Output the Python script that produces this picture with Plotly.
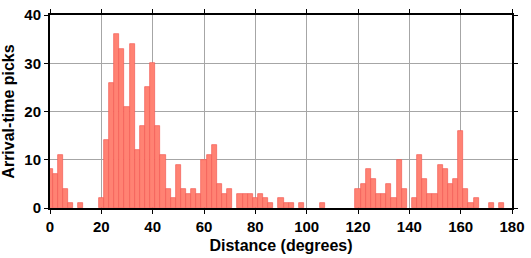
import plotly.graph_objects as go

# Histogram bins (centres, degrees) and counts
bin_centers = list(range(0, 182, 2))
counts = [8, 7, 11, 4, 1, 0, 1, 0, 0, 0,
          2, 14, 26, 36, 33, 21, 34, 12, 17, 25,
          30, 17, 11, 4, 2, 9, 4, 3, 4, 3,
          10, 11, 13, 5, 3, 4, 0, 3, 3, 3,
          2, 3, 2, 1, 0, 2, 1, 1, 0, 1,
          0, 0, 0, 1, 0, 0, 0, 0, 0, 0,
          4, 5, 8, 6, 3, 3, 5, 2, 10, 4,
          0, 2, 11, 6, 3, 3, 9, 8, 5, 6,
          16, 4, 1, 2, 0, 0, 1, 0, 1, 0,
          0]
bin_width = 2
x_ticks = list(range(0, 181, 20))
y_ticks = list(range(0, 41, 10))

xs = [x for x, c in zip(bin_centers, counts) if c > 0]
ys = [c for c in counts if c > 0]

fig = go.Figure()
fig.add_trace(go.Bar(
    x=xs, y=ys, width=bin_width,
    marker=dict(color="#FF8273", line=dict(color="#F25A55", width=0.7)),
    showlegend=False,
))

font_family = "Liberation Sans, Arial, sans-serif"
tickfont = dict(family=font_family, size=15, color="black", weight="bold")
titlefont = dict(family=font_family, size=16, color="black", weight="bold")

axis_common = dict(
    showline=True, linecolor="black", linewidth=2, mirror="ticks",
    ticks="outside", ticklen=4, tickwidth=1.3, tickcolor="black",
    showgrid=True, gridcolor="#a6a6a6", gridwidth=1,
    zeroline=False, tickfont=tickfont, ticklabeloverflow="allow",
)

fig.update_layout(
    width=531, height=258,
    margin=dict(l=50, r=12, t=6, b=50),
    paper_bgcolor="white", plot_bgcolor="white",
    bargap=0,
    xaxis=dict(range=[0, 180], tickvals=x_ticks,
               title=dict(text="Distance (degrees)", font=titlefont, standoff=6),
               **axis_common),
    yaxis=dict(range=[0, 40], tickvals=y_ticks,
               title=dict(text="Arrival-time picks", font=titlefont, standoff=6),
               **axis_common),
)

fig.write_html("out.html")
